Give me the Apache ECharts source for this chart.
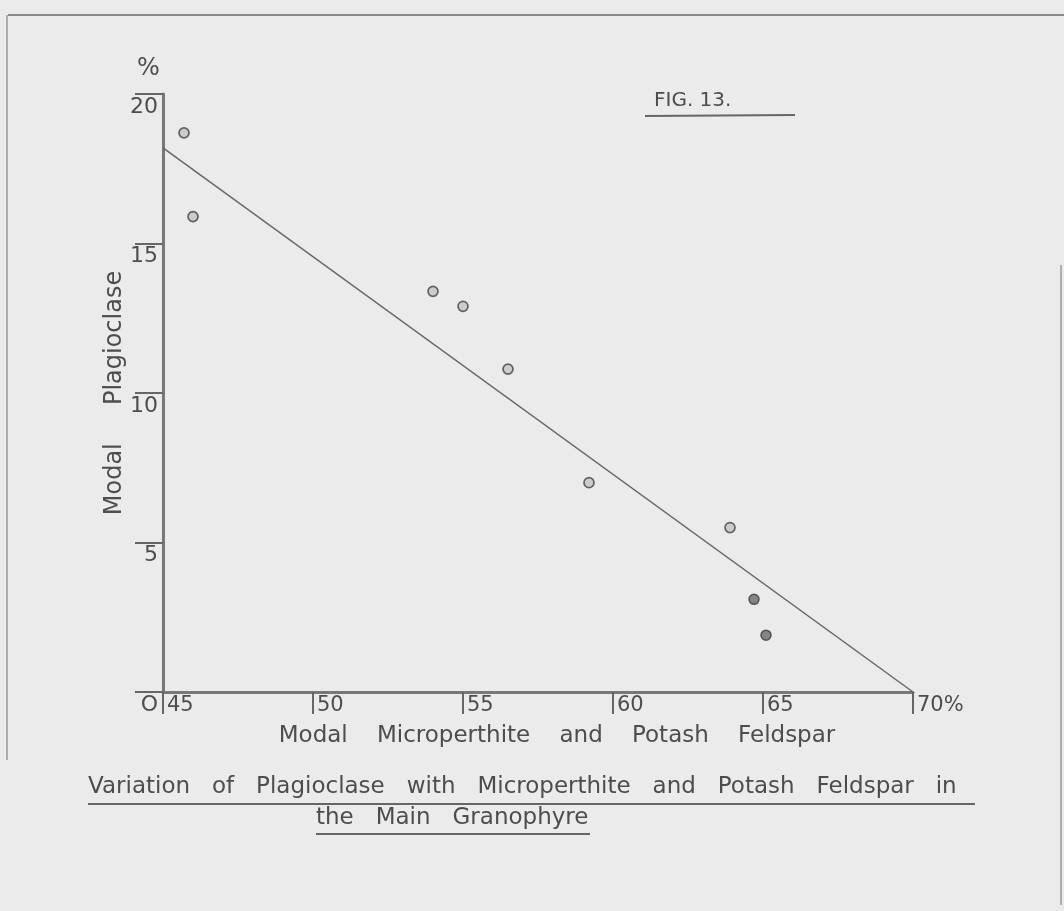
<!DOCTYPE html>
<html>
<head>
<meta charset="utf-8">
<script src="https://cdn.jsdelivr.net/npm/echarts@6/dist/echarts.min.js"></script>
<style>
html,body{margin:0;padding:0;background:#ebebeb;}
#chart{width:1064px;height:911px;}
</style>
</head>
<body>
<div id="chart"></div>
<script>
// Data
const openPoints = [[45.7, 18.7], [46.0, 15.9], [54.0, 13.4], [55.0, 12.9], [56.5, 10.8], [59.2, 7.0], [63.9, 5.5]];
const solidPoints = [[64.7, 3.1], [65.1, 1.9]];
const trendLine = [[45, 18.2], [70, 0]];
const xTicks = [45, 50, 55, 60, 65, 70];
const xTickLabels = ['45', '50', '55', '60', '65', '70%'];
const yTickLabels = ['O', '5', '10', '15', '20'];
const xTitle = 'Modal    Microperthite    and    Potash    Feldspar';
const yTitle = 'Modal     Plagioclase';
const figLabel = 'FIG. 13.';
const captionLine1 = 'Variation   of   Plagioclase   with   Microperthite   and   Potash   Feldspar   in';
const captionLine2 = 'the   Main   Granophyre';

const FONT = '"DejaVu Sans"';
const INK = '#4d4d4d';

const chart = echarts.init(document.getElementById('chart'), null, {renderer: 'canvas'});
chart.setOption({
  backgroundColor: '#ebebeb',
  animation: false,
  grid: {left: 163, right: 151, top: 94, bottom: 219, containLabel: false},
  xAxis: {
    type: 'value', min: 45, max: 70, interval: 5,
    name: xTitle, nameLocation: 'middle', nameGap: 33,
    nameTextStyle: {fontFamily: FONT, fontSize: 23, color: INK, padding: [0, 0, 0, 38]},
    axisLine: {show: true, lineStyle: {color: '#777', width: 3}},
    axisTick: {show: true, length: 22, lineStyle: {color: '#666', width: 2}},
    axisLabel: {
      show: true, margin: 3, align: 'left', verticalAlign: 'top', padding: [0, 0, 0, 4],
      fontFamily: FONT, fontSize: 21, color: INK,
      formatter: function (v) { const i = xTicks.indexOf(v); return i >= 0 ? xTickLabels[i] : ''; }
    },
    splitLine: {show: false}
  },
  yAxis: {
    type: 'value', min: 0, max: 20, interval: 5,
    name: yTitle, nameLocation: 'middle', nameGap: 36, nameRotate: 90, nameMoveOverlap: false,
    nameTextStyle: {fontFamily: FONT, fontSize: 24, color: INK},
    axisLine: {show: true, lineStyle: {color: '#777', width: 3}},
    axisTick: {show: true, length: 28, lineStyle: {color: '#666', width: 2}},
    axisLabel: {
      show: true, margin: 5, verticalAlign: 'top', padding: [2, 0, 0, 0],
      fontFamily: FONT, fontSize: 22, color: INK,
      formatter: function (v) { return yTickLabels[v / 5]; }
    },
    splitLine: {show: false}
  },
  series: [
    {
      type: 'line', data: trendLine, symbol: 'none', silent: true,
      lineStyle: {color: '#666', width: 1.5}
    },
    {
      type: 'scatter', data: openPoints, symbol: 'circle', symbolSize: 10,
      itemStyle: {color: '#c4c4c4', borderColor: '#444', borderWidth: 1.7}
    },
    {
      type: 'scatter', data: solidPoints, symbol: 'circle', symbolSize: 10,
      itemStyle: {color: '#6a6a6a', borderColor: '#3a3a3a', borderWidth: 1.5}
    }
  ],
  graphic: [
    // frame of the scanned sheet
    {type: 'line', shape: {x1: 8, y1: 15, x2: 1064, y2: 15}, style: {stroke: '#8a8a8a', lineWidth: 2}},
    {type: 'line', shape: {x1: 7, y1: 15, x2: 7, y2: 760}, style: {stroke: '#9a9a9a', lineWidth: 1.5}},
    {type: 'line', shape: {x1: 1061, y1: 265, x2: 1061, y2: 905}, style: {stroke: '#9a9a9a', lineWidth: 1.5}},
    // percent sign above the vertical axis
    {type: 'text', left: 137, top: 57, style: {text: '%', font: '24px ' + FONT, fill: INK}},
    // figure label
    {type: 'text', left: 654, top: 91, style: {text: figLabel, font: '20px ' + FONT, fill: INK}},
    {type: 'line', shape: {x1: 645, y1: 116, x2: 795, y2: 115}, style: {stroke: '#666', lineWidth: 2}},
    // caption
    {type: 'text', left: 88, top: 776, style: {text: captionLine1, font: '23px ' + FONT, fill: INK}},
    {type: 'line', shape: {x1: 88, y1: 804, x2: 975, y2: 804}, style: {stroke: '#666', lineWidth: 2}},
    {type: 'text', left: 316, top: 807, style: {text: captionLine2, font: '23px ' + FONT, fill: INK}},
    {type: 'line', shape: {x1: 316, y1: 834, x2: 590, y2: 834}, style: {stroke: '#666', lineWidth: 2}}
  ]
});
</script>
</body>
</html>
